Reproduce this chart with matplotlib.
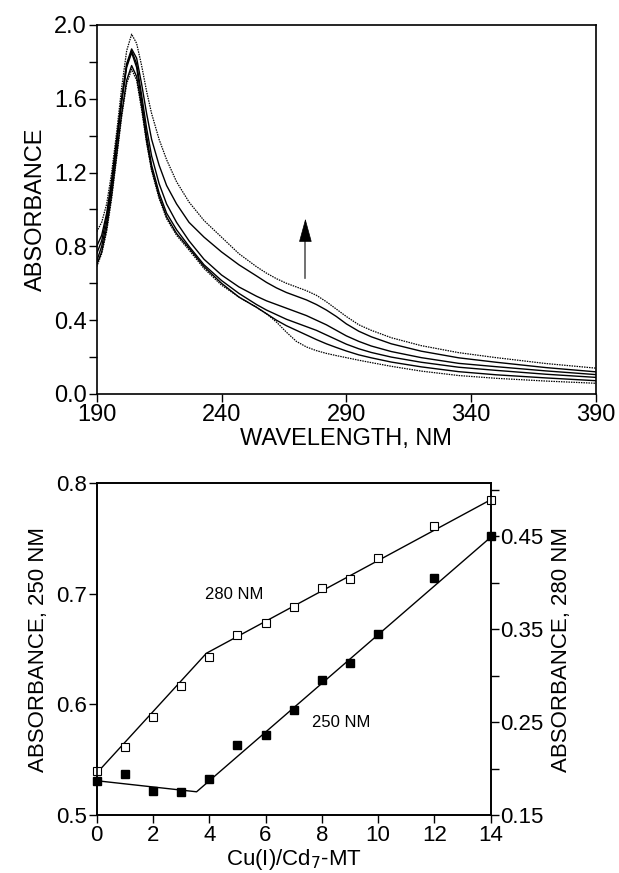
import numpy as np
import matplotlib
matplotlib.use("Agg")
import matplotlib.pyplot as plt
from matplotlib.ticker import MultipleLocator

plt.rcParams['font.family'] = ['Liberation Sans', 'DejaVu Sans']

# ---- top panel: UV spectra during Cu(I) titration ----
wl = [190, 192, 194, 196, 198, 200, 202, 204, 206, 208, 210, 212, 215, 218, 222, 227, 233, 240, 247,
      254, 258, 262, 266, 270, 274, 278, 282, 286, 290, 295, 300, 308, 320, 335, 350, 370, 390]
spec1 = [0.88, 0.93, 1.03, 1.20, 1.42, 1.66, 1.86, 1.95, 1.90, 1.78, 1.64, 1.52, 1.38, 1.27, 1.15, 1.04, 0.94, 0.85, 0.76,
         0.69, 0.655, 0.625, 0.60, 0.58, 0.56, 0.535, 0.50, 0.46, 0.42, 0.375, 0.345, 0.305, 0.262, 0.224, 0.197, 0.165, 0.14]
spec2 = [0.80, 0.86, 0.98, 1.16, 1.38, 1.60, 1.79, 1.87, 1.82, 1.68, 1.52, 1.38, 1.24, 1.13, 1.03, 0.93, 0.85, 0.77, 0.70,
         0.64, 0.605, 0.575, 0.55, 0.53, 0.51, 0.485, 0.455, 0.42, 0.38, 0.34, 0.31, 0.272, 0.232, 0.196, 0.172, 0.143, 0.12]
spec3 = [0.76, 0.83, 0.96, 1.14, 1.37, 1.60, 1.78, 1.86, 1.79, 1.62, 1.44, 1.29, 1.14, 1.03, 0.93, 0.83, 0.73, 0.645, 0.58,
         0.53, 0.505, 0.485, 0.465, 0.445, 0.425, 0.40, 0.375, 0.345, 0.315, 0.285, 0.26, 0.23, 0.197, 0.166, 0.148, 0.125, 0.105]
spec4 = [0.72, 0.80, 0.93, 1.12, 1.35, 1.58, 1.77, 1.85, 1.77, 1.59, 1.40, 1.24, 1.09, 0.98, 0.89, 0.80, 0.70, 0.615, 0.545,
         0.485, 0.455, 0.43, 0.405, 0.385, 0.365, 0.345, 0.32, 0.295, 0.27, 0.245, 0.225, 0.20, 0.172, 0.145, 0.128, 0.107, 0.09]
spec5 = [0.70, 0.77, 0.90, 1.08, 1.30, 1.52, 1.70, 1.78, 1.72, 1.56, 1.37, 1.22, 1.07, 0.96, 0.87, 0.79, 0.69, 0.60, 0.525,
         0.47, 0.435, 0.40, 0.37, 0.345, 0.32, 0.295, 0.272, 0.252, 0.233, 0.212, 0.196, 0.173, 0.147, 0.121, 0.104, 0.087, 0.072]
spec6 = [0.69, 0.76, 0.88, 1.06, 1.28, 1.50, 1.68, 1.76, 1.70, 1.54, 1.36, 1.21, 1.06, 0.95, 0.86, 0.78, 0.68, 0.59, 0.525,
         0.47, 0.435, 0.39, 0.335, 0.285, 0.255, 0.235, 0.22, 0.208, 0.197, 0.183, 0.17, 0.15, 0.124, 0.10, 0.085, 0.07, 0.058]
spectra = [spec1, spec2, spec3, spec4, spec5, spec6]
dotted = [True, False, False, False, False, True]

# ---- bottom panel: titration at 250 and 280 nm ----
ratio = [0, 1, 2, 3, 4, 5, 6, 7, 8, 9, 10, 12, 14]
abs250 = [0.531, 0.537, 0.522, 0.521, 0.533, 0.563, 0.572, 0.595, 0.622, 0.637, 0.664, 0.714, 0.752]
abs280 = [0.197, 0.223, 0.255, 0.289, 0.320, 0.344, 0.356, 0.374, 0.394, 0.404, 0.426, 0.461, 0.489]
fit250_x = [0, 3.55, 14]
fit250_y = [0.531, 0.521, 0.751]
fit280_x = [0, 3.9, 14]
fit280_y = [0.195, 0.324, 0.489]

fig = plt.figure(figsize=(6.19, 8.73), dpi=100)

ax1 = fig.add_axes([0.1562, 0.5487, 0.8066, 0.4227])
for s, d in zip(spectra, dotted):
    if d:
        ax1.plot(wl, s, color='black', lw=0.9, ls=(0, (1.2, 0.8)))
    else:
        ax1.plot(wl, s, color='black', lw=1.0)
# arrow: grey shaft, black head
ax1.plot([273.6, 273.6], [0.63, 0.84], color='0.35', lw=1.2)
ax1.annotate('', xy=(273.6, 0.95), xytext=(273.6, 0.83),
             arrowprops=dict(arrowstyle='-|>,head_length=1.1,head_width=0.3',
                             mutation_scale=14, color='black', lw=0.5,
                             shrinkA=0, shrinkB=0))
ax1.set_xlim(190, 390)
ax1.set_ylim(0, 2.0)
ax1.set_xticks([190, 240, 290, 340, 390])
ax1.yaxis.set_major_locator(MultipleLocator(0.4))
ax1.yaxis.set_minor_locator(MultipleLocator(0.2))
ax1.set_yticklabels(['%.1f' % v for v in ax1.get_yticks()])
ax1.tick_params(direction='out', length=6, width=1, labelsize=17, pad=1)
ax1.tick_params(which='minor', direction='out', length=6, width=1)
ax1.set_xlabel('WAVELENGTH, NM', fontsize=17, labelpad=2)
ax1.set_ylabel('ABSORBANCE', fontsize=17, labelpad=5)
for sp in ax1.spines.values():
    sp.set_linewidth(1.2)

ax2 = fig.add_axes([0.1562, 0.0664, 0.6365, 0.3803])
ax2.plot(fit250_x, fit250_y, color='black', lw=1.0)
ax2.plot(ratio, abs250, 's', ms=6, mfc='black', mec='black', clip_on=False)
ax2.set_xlim(0, 14)
ax2.set_ylim(0.5, 0.8)
ax2.set_xticks(range(0, 15, 2))
ax2.set_yticks([0.5, 0.6, 0.7, 0.8])
ax2.set_yticklabels(['0.5', '0.6', '0.7', '0.8'])
ax2.tick_params(direction='out', length=6, width=1, labelsize=16, pad=1)
ax2.set_xlabel('Cu(I)/Cd$_7$-MT', fontsize=16, labelpad=1)
ax2.set_ylabel('ABSORBANCE, 250 NM', fontsize=16, labelpad=5)
ax2.text(4.9, 0.6995, '280 NM', fontsize=12, ha='center', va='center')
ax2.text(8.7, 0.584, '250 NM', fontsize=12, ha='center', va='center')

ax3 = ax2.twinx()
ax3.plot(fit280_x, fit280_y, color='black', lw=1.0)
ax3.plot(ratio, abs280, 's', ms=6, mfc='white', mec='black', mew=0.8, clip_on=False)
ax3.set_ylim(0.15, 0.507)
ax3.set_yticks([0.15, 0.25, 0.35, 0.45])
ax3.set_yticklabels(['0.15', '0.25', '0.35', '0.45'])
ax3.yaxis.set_minor_locator(MultipleLocator(0.05))
ax3.tick_params(direction='out', length=6, width=1, labelsize=16, pad=1)
ax3.tick_params(which='minor', direction='out', length=6, width=1)
ax3.set_ylabel('ABSORBANCE, 280 NM', fontsize=16, labelpad=5)
for a in (ax2, ax3):
    for sp in a.spines.values():
        sp.set_linewidth(1.2)

fig.savefig('out.png', dpi=100)
